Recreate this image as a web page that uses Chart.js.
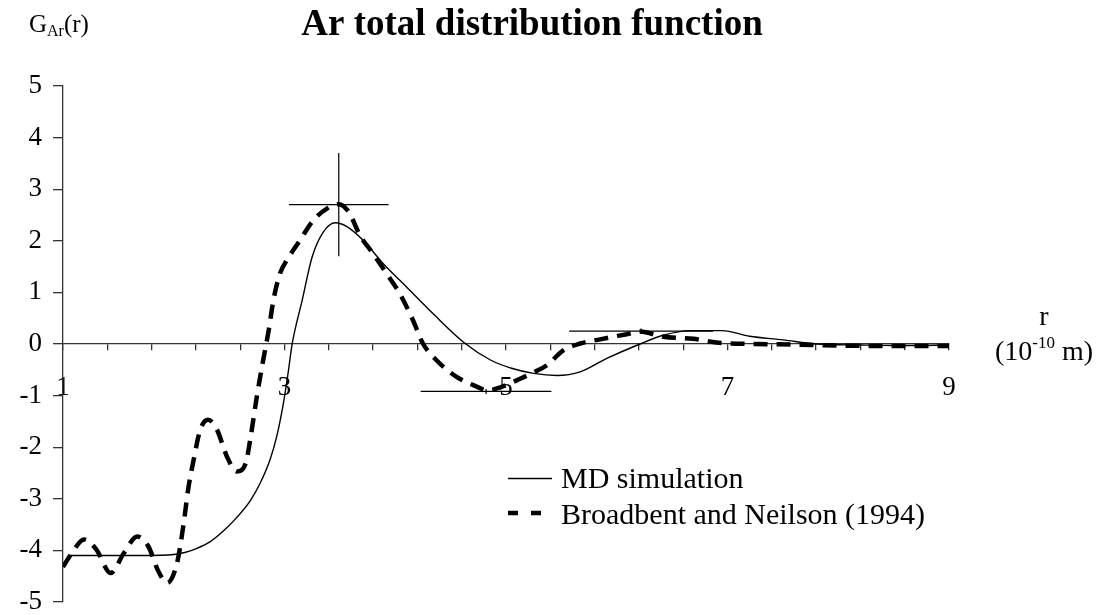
<!DOCTYPE html>
<html>
<head>
<meta charset="utf-8">
<script src="https://cdn.jsdelivr.net/npm/chart.js@4/dist/chart.umd.min.js"></script>
<style>
  html, body { margin: 0; padding: 0; background: #fff; }
  #wrap { width: 1102px; height: 615px; position: relative; }
</style>
</head>
<body>
<div id="wrap"><canvas id="c"></canvas></div>
<script>
// ── DATA ──
const mdR = [1.05, 1.6, 1.95, 2.1, 2.21, 2.33, 2.45, 2.57, 2.69, 2.78, 2.87, 2.93, 2.99, 3.03, 3.07, 3.16, 3.25, 3.35, 3.46, 3.56, 3.71, 3.89, 4.10, 4.35, 4.62, 4.86, 5.05, 5.25, 5.46, 5.67, 5.91, 6.21, 6.42, 6.66, 6.95, 7.2, 7.5, 7.8, 8.2, 8.6, 9.0];
const mdG = [-4.10, -4.10, -4.09, -4.04, -3.96, -3.83, -3.62, -3.36, -3.04, -2.70, -2.24, -1.79, -1.15, -0.60, 0.01, 0.85, 1.69, 2.17, 2.35, 2.28, 2.01, 1.56, 1.11, 0.57, 0.03, -0.31, -0.47, -0.57, -0.61, -0.54, -0.28, 0.0, 0.17, 0.26, 0.26, 0.15, 0.08, 0.0, -0.02, -0.03, -0.02];

const bnR = [1.0, 1.08, 1.19, 1.3, 1.43, 1.55, 1.67, 1.77, 1.86, 1.94, 2.03, 2.09, 2.13, 2.18, 2.24, 2.31, 2.39, 2.48, 2.57, 2.65, 2.69, 2.75, 2.80, 2.86, 2.90, 2.96, 3.02, 3.14, 3.26, 3.38, 3.49, 3.58, 3.68, 3.80, 3.92, 4.04, 4.16, 4.25, 4.37, 4.55, 4.74, 4.83, 4.95, 5.10, 5.25, 5.37, 5.52, 5.67, 5.85, 6.09, 6.21, 6.42, 6.69, 6.90, 7.2, 7.6, 8.0, 8.5, 9.0];
const bnG = [-4.32, -4.05, -3.79, -3.98, -4.44, -4.05, -3.73, -3.92, -4.40, -4.63, -4.24, -3.47, -2.82, -2.24, -1.66, -1.47, -1.66, -2.18, -2.47, -2.31, -1.86, -1.02, -0.40, 0.30, 0.85, 1.37, 1.62, 2.01, 2.40, 2.62, 2.71, 2.56, 2.11, 1.75, 1.37, 0.98, 0.46, 0.01, -0.31, -0.63, -0.83, -0.90, -0.84, -0.70, -0.55, -0.41, -0.12, 0.01, 0.09, 0.19, 0.24, 0.14, 0.10, 0.03, 0.0, -0.01, -0.03, -0.04, -0.04];

// error crosses on the experimental curve
const errR = [3.49, 4.82, 6.22];
const errG = [2.70, -0.92, 0.25];
const errDr = [0.45, 0.59, 0.65];
const errDg = [1.0, 0.05, 0.05];

const xTickLabels = [1, 3, 5, 7, 9];
const seriesNames = ['MD simulation', 'Broadbent and Neilson (1994)'];

Chart.defaults.font.family = "'Liberation Serif', 'Times New Roman', serif";
Chart.defaults.color = '#000';

const pts = (xs, ys) => xs.map((x, i) => ({ x: x, y: ys[i] }));

const datasets = [
  { label: seriesNames[0], data: pts(mdR, mdG), borderColor: '#000', borderWidth: 1.4, pointRadius: 0, cubicInterpolationMode: 'monotone', fill: false },
  { label: seriesNames[1], data: pts(bnR, bnG), borderColor: '#000', borderWidth: 4.5, borderDash: [14, 9], pointRadius: 0, cubicInterpolationMode: 'monotone', fill: false }
];
errR.forEach((r, i) => {
  datasets.push({ data: [{ x: r - errDr[i], y: errG[i] }, { x: r + errDr[i], y: errG[i] }], borderColor: '#000', borderWidth: 1.2, pointRadius: 0, fill: false });
  datasets.push({ data: [{ x: r, y: errG[i] - errDg[i] }, { x: r, y: errG[i] + errDg[i] }], borderColor: '#000', borderWidth: 1.2, pointRadius: 0, fill: false });
});

// ── TEXT + LEGEND ──
const decor = {
  id: 'decor',
  afterDraw(chart) {
    const ctx = chart.ctx;
    const F = "'Liberation Serif', 'Times New Roman', serif";
    ctx.save();
    ctx.fillStyle = '#000';
    ctx.textBaseline = 'alphabetic';

    // title
    ctx.font = 'bold 37px ' + F;
    ctx.textAlign = 'center';
    ctx.fillText('Ar total distribution function', 532, 35);

    // y label  G_Ar(r)
    ctx.textAlign = 'left';
    ctx.font = '25px ' + F;
    ctx.fillText('G', 29, 32);
    let x = 29 + ctx.measureText('G').width;
    ctx.font = '16px ' + F;
    ctx.fillText('Ar', x, 36);
    x += ctx.measureText('Ar').width;
    ctx.font = '25px ' + F;
    ctx.fillText('(r)', x, 32);

    // x label  r (10^-10 m)
    ctx.font = '28px ' + F;
    ctx.textAlign = 'center';
    ctx.fillText('r', 1044, 325);
    ctx.textAlign = 'left';
    const a = '(10', s = '-10', b = ' m)';
    const wa = ctx.measureText(a).width, wb = ctx.measureText(b).width;
    ctx.font = '17px ' + F;
    const ws = ctx.measureText(s).width;
    let x0 = 1044 - (wa + ws + wb) / 2;
    ctx.font = '28px ' + F;
    ctx.fillText(a, x0, 360);
    ctx.font = '17px ' + F;
    ctx.fillText(s, x0 + wa, 348);
    ctx.font = '28px ' + F;
    ctx.fillText(b, x0 + wa + ws, 360);

    // legend
    const ds = chart.data.datasets;
    ctx.strokeStyle = ds[0].borderColor;
    ctx.lineWidth = ds[0].borderWidth;
    ctx.beginPath(); ctx.moveTo(508, 478.5); ctx.lineTo(552, 478.5); ctx.stroke();
    ctx.lineWidth = ds[1].borderWidth;
    ctx.setLineDash([10, 13]);
    ctx.beginPath(); ctx.moveTo(508, 513); ctx.lineTo(545, 513); ctx.stroke();
    ctx.setLineDash([]);
    ctx.font = '30px ' + F;
    ctx.fillText(ds[0].label, 561, 488);
    ctx.fillText(ds[1].label, 561, 524);
    ctx.restore();
  }
};

new Chart(document.getElementById('c'), {
  type: 'line',
  data: { datasets: datasets },
  options: {
    responsive: true,
    maintainAspectRatio: false,
    animation: false,
    layout: { padding: { top: 86, right: 153, bottom: 13, left: 0 } },
    plugins: { legend: { display: false }, tooltip: { enabled: false }, title: { display: false } },
    scales: {
      x: {
        type: 'linear',
        position: { y: 0 },
        min: 1, max: 9,
        afterFit: s => { s.height = 0; s.paddingTop = 0; s.paddingBottom = 0; },
        border: { color: '#333', width: 1.3 },
        grid: { drawOnChartArea: false, color: '#333', lineWidth: 1.3, tickLength: 6 },
        ticks: {
          stepSize: 0.4, autoSkip: false, maxRotation: 0, padding: 22,
          font: { size: 27 }, color: '#000',
          callback: v => {
            const n = Math.round(v);
            return Math.abs(v - n) < 1e-6 && xTickLabels.includes(n) ? String(n) : '';
          }
        }
      },
      y: {
        type: 'linear',
        min: -5, max: 5,
        afterFit: s => { s.width = 63; s.paddingTop = 0; s.paddingBottom = 0; },
        border: { color: '#333', width: 1.3 },
        grid: { drawOnChartArea: false, color: '#333', lineWidth: 1.3, tickLength: 10 },
        ticks: { stepSize: 1, padding: 11, font: { size: 27 }, color: '#000', callback: v => String(v) }
      }
    }
  },
  plugins: [decor]
});
</script>
</body>
</html>
